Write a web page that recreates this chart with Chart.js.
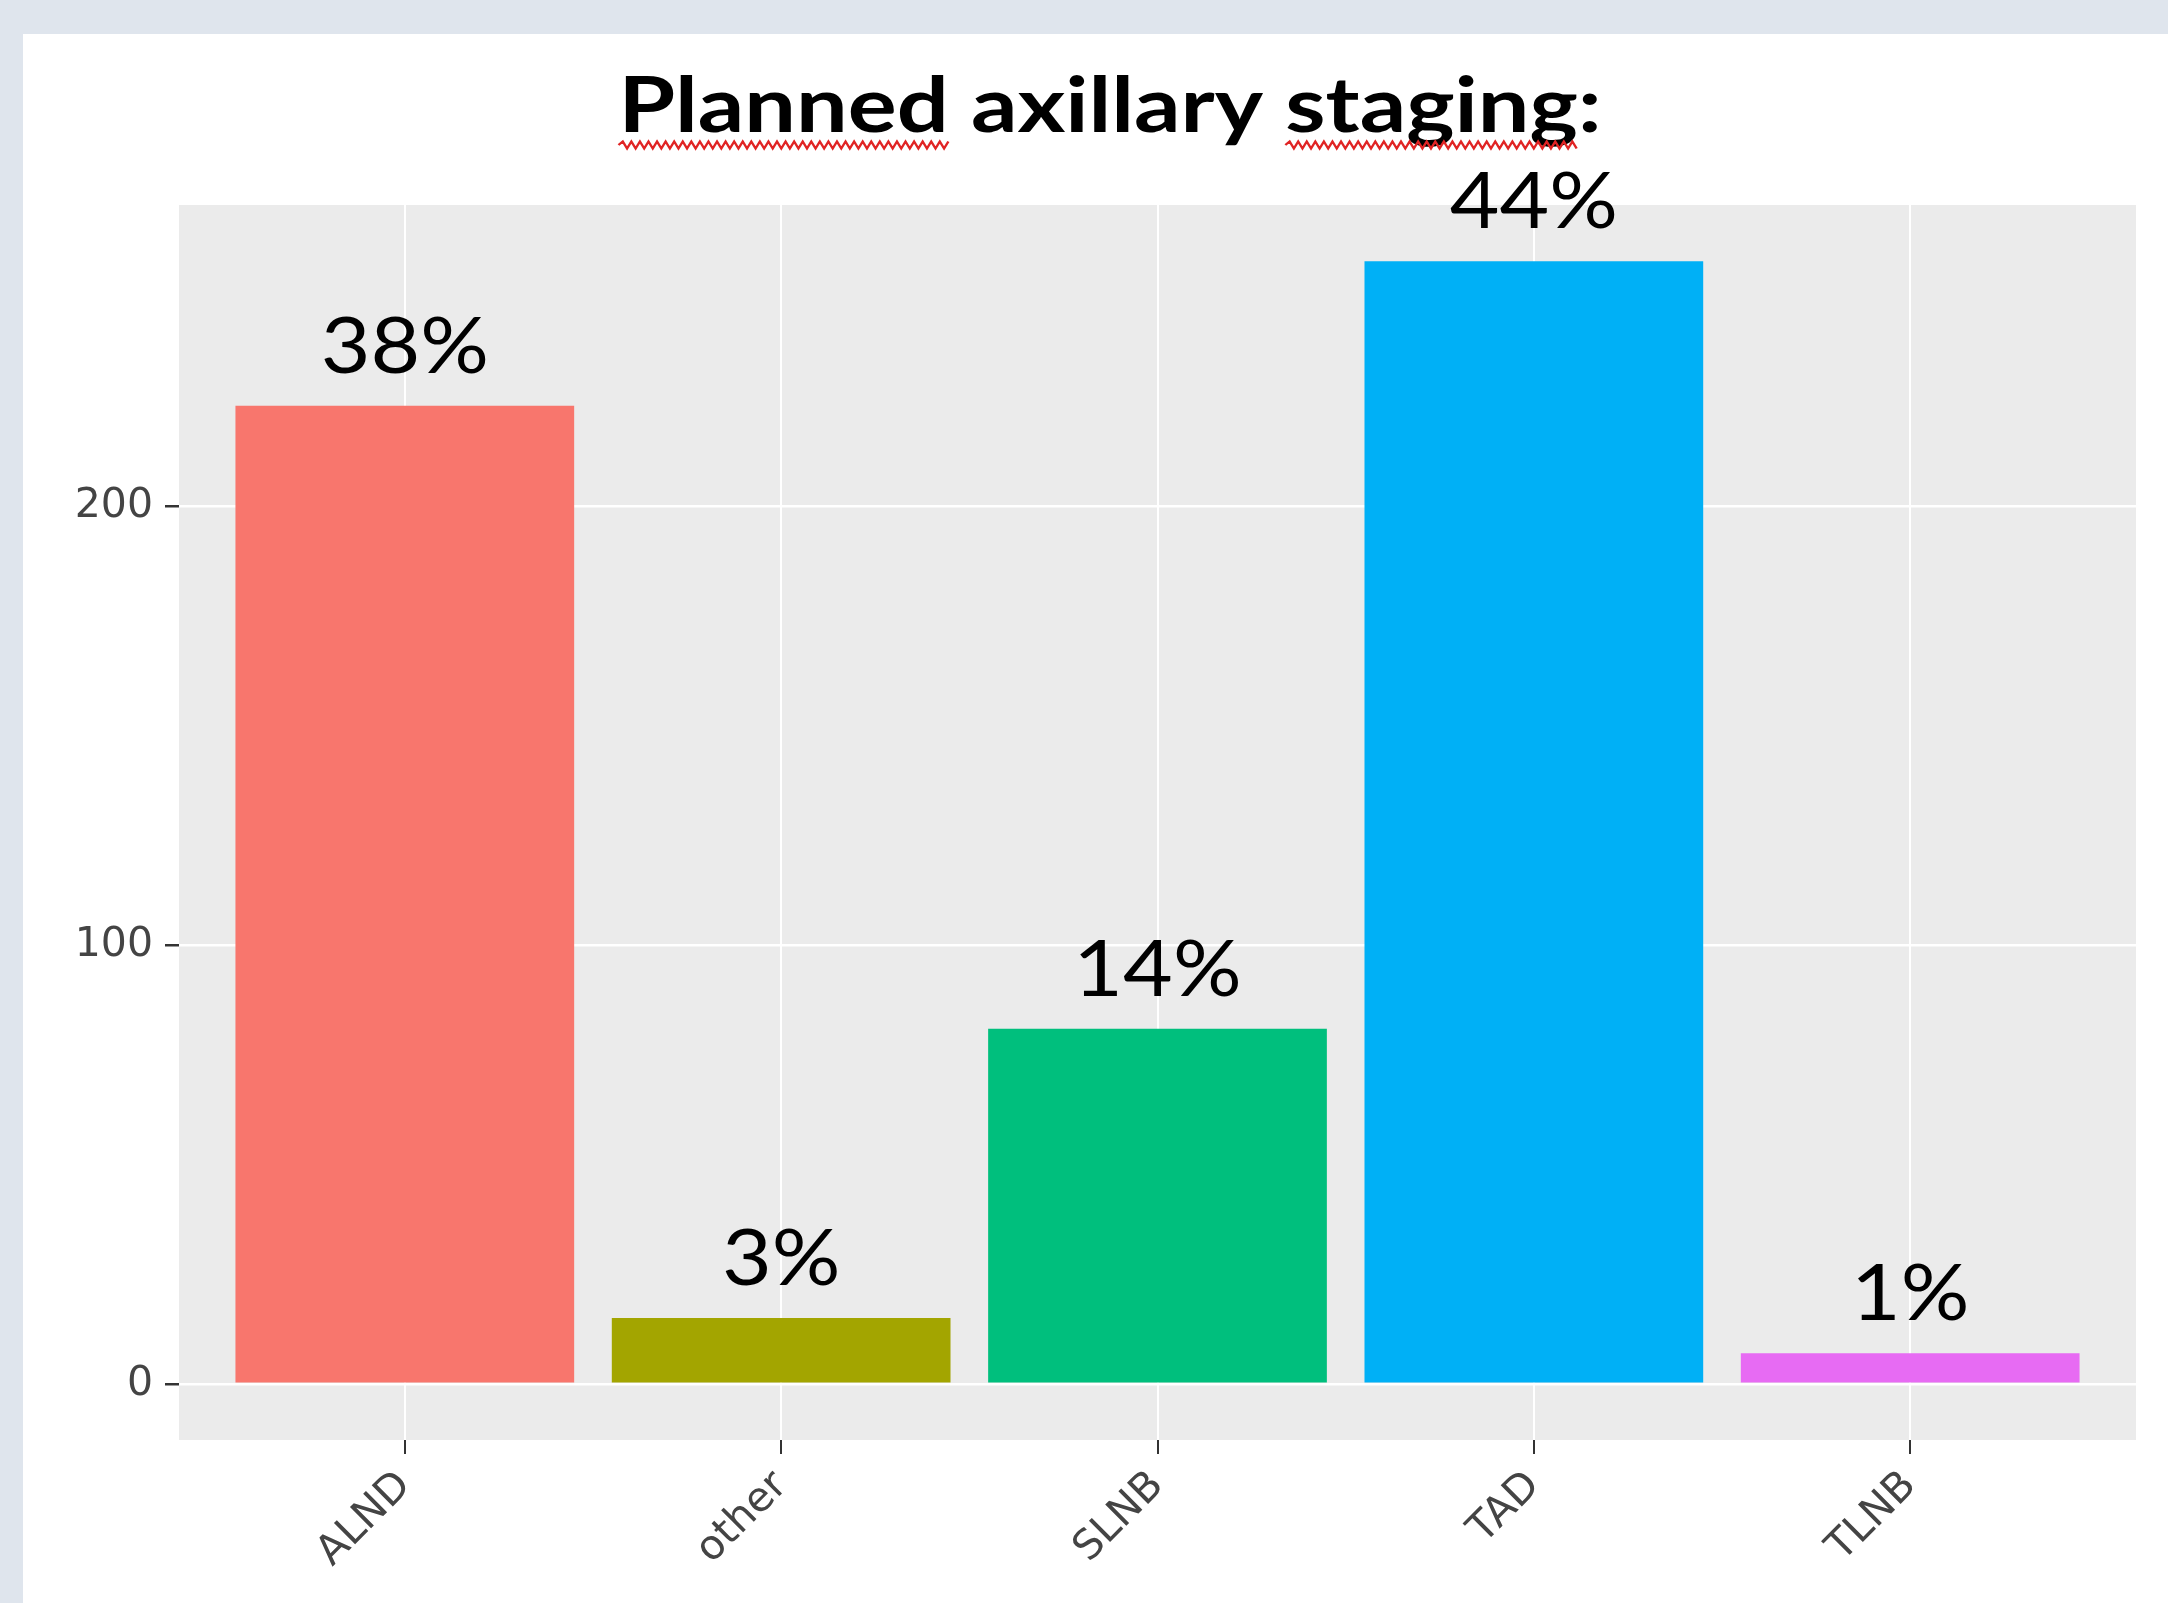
<!DOCTYPE html>
<html><head><meta charset="utf-8">
<script src="https://cdn.jsdelivr.net/npm/chart.js@4.4.1/dist/chart.umd.min.js"></script>
<style>
html,body{margin:0;padding:0;background:#dfe5ed;width:2168px;height:1603px;overflow:hidden}
#wrap{position:absolute;left:23px;top:34px;width:2145px;height:1569px;background:#ffffff}
canvas{display:block}
</style></head><body>
<div id="wrap"><canvas id="c" width="2145" height="1569"></canvas></div>
<script>
const titleText = "Planned axillary staging:";
const underlinedWords = ["Planned", "staging"];
const categories = ["ALND", "other", "SLNB", "TAD", "TLNB"];
const counts = [223, 15, 81, 256, 7];
const percentLabels = ["38%", "3%", "14%", "44%", "1%"];
const barColors = ["#F8766D", "#A3A500", "#00BF7D", "#00B0F6", "#E76BF3"];
const yTickStep = 100;

const yMax = Math.max(...counts);
const yExpand = yMax * 0.05;
const xExpand = 0.6;

const panelBg = {
  id: 'panelBg',
  beforeDraw(chart) {
    const {ctx, chartArea: a} = chart;
    ctx.save();
    ctx.fillStyle = '#EBEBEB';
    ctx.fillRect(a.left, a.top, a.right - a.left, a.bottom - a.top);
    ctx.restore();
  }
};

const barLabels = {
  id: 'barLabels',
  afterDatasetsDraw(chart) {
    const ctx = chart.ctx;
    const meta = chart.getDatasetMeta(0);
    meta.data.forEach((el, i) => {
      ctx.save();
      ctx.fillStyle = '#000000';
      ctx.font = '400 78px Lato';
      ctx.textAlign = 'center';
      ctx.textBaseline = 'alphabetic';
      ctx.translate(el.x, el.y - 33);
      ctx.scale(1.1, 1);
      ctx.fillText(percentLabels[i], 0, 0);
      ctx.restore();
    });
  }
};

const titlePlugin = {
  id: 'titlePlugin',
  afterDraw(chart) {
    const ctx = chart.ctx;
    ctx.save();
    ctx.font = '700 77px Lato';
    ctx.fillStyle = '#000000';
    ctx.textBaseline = 'alphabetic';
    ctx.textAlign = 'left';
    const sx = 1.19;
    const total = ctx.measureText(titleText).width;
    const cx = 1087, base = 98;
    ctx.translate(cx, base);
    ctx.scale(sx, 1);
    const x0 = -total / 2;
    ctx.fillText(titleText, x0, 0);
    // spell-check squiggles
    ctx.strokeStyle = '#E02424';
    ctx.lineWidth = 2;
    underlinedWords.forEach(w => {
      const idx = titleText.indexOf(w);
      const wx = x0 + ctx.measureText(titleText.slice(0, idx)).width;
      const ww = ctx.measureText(w).width;
      const y = 13;
      ctx.beginPath();
      let up = true;
      ctx.moveTo(wx, y);
      for (let px = wx + 3.6; px <= wx + ww; px += 3.6) {
        ctx.lineTo(px, up ? y - 3.5 : y + 3.5);
        up = !up;
      }
      ctx.stroke();
    });
    ctx.restore();
  }
};

new Chart(document.getElementById('c'), {
  type: 'bar',
  data: {
    datasets: [{
      data: counts.map((v, i) => ({x: i, y: v})),
      backgroundColor: barColors,
      borderWidth: 0,
      barPercentage: 0.9,
      categoryPercentage: 1.0
    }]
  },
  options: {
    responsive: false,
    animation: false,
    devicePixelRatio: 1,
    layout: {padding: {top: 171, right: 32, left: 0, bottom: 0}},
    plugins: {legend: {display: false}, tooltip: {enabled: false}, title: {display: false}},
    scales: {
      x: {
        type: 'linear',
        min: -xExpand,
        max: categories.length - 1 + xExpand,
        offset: false,
        afterFit(s) { s.height = 163; },
        border: {display: false},
        grid: {offset: false, color: '#FFFFFF', lineWidth: 2, tickColor: '#333333', tickWidth: 2, tickLength: 14},
        ticks: {
          stepSize: 1,
          includeBounds: false,
          autoSkip: false,
          minRotation: 45,
          maxRotation: 45,
          padding: 8,
          color: '#444444',
          font: {family: 'DejaVu Sans', size: 41},
          callback: v => categories[v] ?? ''
        }
      },
      y: {
        type: 'linear',
        min: -yExpand,
        max: yMax + yExpand,
        afterFit(s) { s.width = 156; },
        border: {display: false},
        grid: {color: '#FFFFFF', lineWidth: 2.5, tickColor: '#333333', tickWidth: 2.5, tickLength: 14},
        ticks: {
          stepSize: yTickStep,
          includeBounds: false,
          padding: 12,
          color: '#444444',
          font: {family: 'DejaVu Sans', size: 41},
          callback: v => String(v)
        }
      }
    }
  },
  plugins: [panelBg, barLabels, titlePlugin]
});
</script>
</body></html>
